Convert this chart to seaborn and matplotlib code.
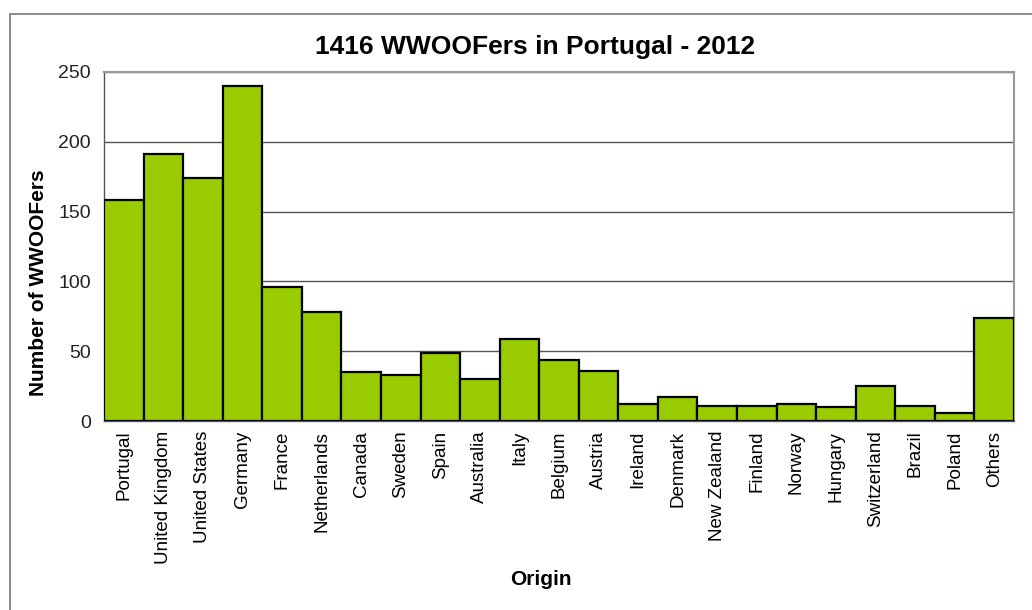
import seaborn as sns
import matplotlib.pyplot as plt
import matplotlib.patches as mpatches
import pandas as pd
import numpy as np

# data
countries = ['Portugal', 'United Kingdom', 'United States', 'Germany', 'France',
             'Netherlands', 'Canada', 'Sweden', 'Spain', 'Australia', 'Italy',
             'Belgium', 'Austria', 'Ireland', 'Denmark', 'New Zealand', 'Finland',
             'Norway', 'Hungary', 'Switzerland', 'Brazil', 'Poland', 'Others']
wwoofers = [158, 191, 174, 240, 96, 78, 35, 33, 49, 30, 59,
            44, 36, 12, 17, 11, 11, 12, 10, 25, 11, 6, 74]

sns.set_style("white")
plt.rcParams['font.family'] = ['Liberation Sans', 'DejaVu Sans']
plt.rcParams['text.color'] = 'black'
plt.rcParams['axes.labelcolor'] = 'black'
plt.rcParams['xtick.color'] = 'black'
plt.rcParams['ytick.color'] = 'black'

df = pd.DataFrame({'Origin': countries, 'Number': wwoofers})

fig = plt.figure(figsize=(10.32, 6.10), dpi=100)
ax = fig.add_axes([104 / 1032, 1 - 421 / 610, (1014 - 104) / 1032, (421 - 72) / 610])

sns.barplot(data=df, x='Origin', y='Number', color='#99CC00', saturation=1,
            width=1.0, edgecolor='black', linewidth=1.6, ax=ax, zorder=3)

ax.set_ylim(0, 250)
ax.set_xlim(-0.5, len(countries) - 0.5)
ax.set_yticks(np.arange(0, 251, 50))
ax.yaxis.grid(True, color='#555555', linewidth=1, zorder=0)
ax.set_axisbelow(True)

# category separators as tick marks, like the spreadsheet chart
ax.set_xticks(np.arange(len(countries)))
ax.set_xticklabels(countries, rotation=90, fontsize=13.5)
ax.set_xticks(np.arange(-0.5, len(countries)), minor=True)
ax.tick_params(axis='x', which='major', length=0, pad=7)
ax.tick_params(axis='x', which='minor', length=6, width=1, color='#555555', direction='out')
ax.tick_params(axis='y', length=6, width=1, color='#555555', direction='out',
               labelsize=14, labelcolor='#222222')

for side in ['top', 'right']:
    ax.spines[side].set_color('#999999')
    ax.spines[side].set_linewidth(1.5)
for side in ['left', 'bottom']:
    ax.spines[side].set_color('#555555')
    ax.spines[side].set_linewidth(1)

fig.text(535 / 1032, 1 - 47 / 610, '1416 WWOOFers in Portugal - 2012',
         fontsize=19, fontweight='bold', ha='center', va='center')
ax.set_xlabel('Origin', fontsize=15, fontweight='bold')
ax.xaxis.set_label_coords(0.48, -0.427)
ax.set_ylabel('Number of WWOOFers', fontsize=15, fontweight='bold')
ax.yaxis.set_label_coords(-0.062, 0.395)

# outer chart border
fig.patches.append(mpatches.Rectangle((10 / 1032, -0.02), 1.0, 1 - 14 / 610 + 0.02,
                                      transform=fig.transFigure, fill=False,
                                      edgecolor='#777777', linewidth=1.2))

fig.savefig('out.png', dpi=100)
